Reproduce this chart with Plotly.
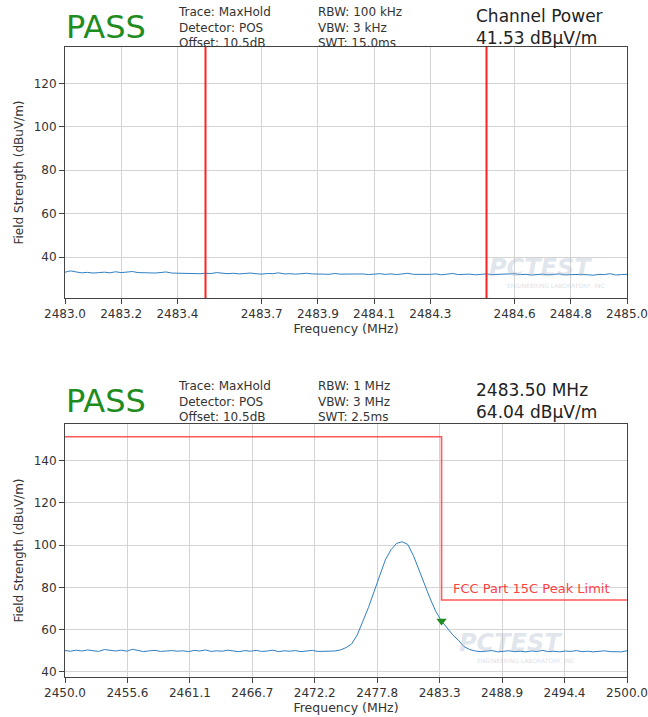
import numpy as np
import plotly.graph_objects as go

# ---------------- data ----------------
# Top chart (channel power sweep)
top_freq_start, top_freq_stop = 2483.0, 2485.0
top_level = [
    33.0, 33.6, 33.1, 32.7, 32.9, 32.6, 32.8, 33.0, 32.7, 33.2,
    32.8, 32.9, 33.3, 32.8, 32.9, 32.7, 32.6, 32.9, 33.1, 32.6,
    32.5, 32.4, 32.6, 32.5, 32.3, 32.5, 32.4, 32.8, 32.4, 32.3,
    32.5, 32.2, 32.4, 32.6, 32.3, 32.1, 32.4, 32.3, 32.7, 32.2,
    32.3, 32.1, 32.3, 32.5, 32.2, 32.3, 32.1, 32.0, 32.4, 32.1,
    32.2, 32.0, 32.3, 32.2, 31.9, 32.1, 32.3, 32.0, 32.2, 31.9,
    32.1, 32.5, 32.0, 31.9, 32.1, 32.0, 32.2, 31.8, 32.1, 32.4,
    31.9, 32.0, 32.1, 31.8, 32.0, 32.2, 31.9, 32.0, 31.8, 32.1,
    32.3, 31.9, 32.0, 31.7, 31.9, 32.1, 31.8, 32.0, 32.2, 31.8,
    31.9, 31.7, 32.0, 31.8, 31.6, 32.0, 31.9, 32.3, 31.7, 31.9,
    32.0,
]
channel_edges = [2483.5, 2484.5]
top_xtick_vals = [2483.0, 2483.2, 2483.4, 2483.7, 2483.9, 2484.1, 2484.3, 2484.6, 2484.8, 2485.0]
top_xtick_text = ["2483.0", "2483.2", "2483.4", "2483.7", "2483.9", "2484.1", "2484.3", "2484.6", "2484.8", "2485.0"]
top_ytick_vals = [40, 60, 80, 100, 120]

# Bottom chart (band edge sweep)
bot_freq_start, bot_freq_stop = 2450.0, 2500.0
bot_level = [
    50.1, 49.8, 50.3, 49.9, 50.4, 50.0, 49.7, 50.6, 50.2, 49.9,
    50.3, 49.8, 50.7, 50.1, 49.6, 50.0, 50.2, 49.7, 49.9, 50.1,
    49.8, 50.0, 49.6, 50.2, 49.9, 50.4, 49.7, 50.0, 49.8, 50.3,
    49.9, 49.6, 50.1, 49.8, 50.2, 49.7, 49.9, 50.3, 49.6, 50.0,
    49.8, 50.1, 49.6, 49.9, 50.2, 49.7, 49.8, 49.6, 49.9,
    50.4, 51.5, 53.2, 57.5, 64.0, 70.5, 78.0, 86.0, 93.0, 97.8,
    100.8, 101.6, 100.3, 95.0, 88.0, 80.5, 74.5, 68.5, 64.04, 60.8,
    57.5, 55.0, 52.0, 50.6,
    49.9, 49.6, 49.8, 50.1, 49.5, 49.7, 50.0, 49.6, 49.8, 49.5,
    49.9, 49.7, 50.2, 49.6, 49.8, 49.5, 49.9, 49.7, 50.1, 49.6,
    49.8, 49.5, 49.9, 50.0, 49.6, 49.7, 49.5, 50.0,
]
limit_freq = [2450.0, 2483.5, 2483.5, 2500.0]
limit_level = [151.3, 151.3, 74.0, 74.0]
marker_freq = [2483.5]
marker_level = [64.04]
bot_xtick_vals = [2450.0, 2455.56, 2461.11, 2466.67, 2472.22, 2477.78, 2483.33, 2488.89, 2494.44, 2500.0]
bot_xtick_text = ["2450.0", "2455.6", "2461.1", "2466.7", "2472.2", "2477.8", "2483.3", "2488.9", "2494.4", "2500.0"]
bot_ytick_vals = [40, 60, 80, 100, 120, 140]

top_info_left = ["Trace: MaxHold", "Detector: POS", "Offset: 10.5dB"]
top_info_mid = ["RBW: 100 kHz", "VBW: 3 kHz", "SWT: 15.0ms"]
top_result = ["Channel Power", "41.53 dBµV/m"]
bot_info_left = ["Trace: MaxHold", "Detector: POS", "Offset: 10.5dB"]
bot_info_mid = ["RBW: 1 MHz", "VBW: 3 MHz", "SWT: 2.5ms"]
bot_result = ["2483.50 MHz", "64.04 dBµV/m"]

# ---------------- figure ----------------
W, H = 648, 717
FONT = "DejaVu Sans"
TRACE_BLUE = "#2f7fc1"

top_freq = np.linspace(top_freq_start, top_freq_stop, len(top_level))
bot_freq = np.linspace(bot_freq_start, bot_freq_stop, len(bot_level))

fig = go.Figure()
fig.add_trace(go.Scatter(x=top_freq, y=top_level, mode="lines",
                         line=dict(color=TRACE_BLUE, width=1), xaxis="x", yaxis="y",
                         showlegend=False, hoverinfo="skip"))
fig.add_trace(go.Scatter(x=bot_freq, y=bot_level, mode="lines",
                         line=dict(color=TRACE_BLUE, width=1), xaxis="x2", yaxis="y2",
                         showlegend=False, hoverinfo="skip"))
fig.add_trace(go.Scatter(x=limit_freq, y=limit_level, mode="lines",
                         line=dict(color="rgba(255,60,60,0.85)", width=1.6), xaxis="x2", yaxis="y2",
                         showlegend=False, hoverinfo="skip"))
fig.add_trace(go.Scatter(x=marker_freq, y=marker_level, mode="markers",
                         marker=dict(symbol="triangle-down", size=9, color="#1e8c1e"),
                         xaxis="x2", yaxis="y2", showlegend=False, hoverinfo="skip"))

for xe in channel_edges:
    fig.add_shape(type="line", xref="x", yref="y domain", x0=xe, x1=xe, y0=0, y1=1,
                  line=dict(color="#ff2020", width=2))


def px_x(px):
    return px / W


def px_y(py):
    return 1 - py / H


axis_common = dict(
    showline=True, mirror=True, linecolor="#444", linewidth=1,
    ticks="outside", ticklen=5, tickcolor="#444",
    showgrid=True, gridcolor="#d4d4d4", gridwidth=1,
    tickfont=dict(family=FONT, size=12, color="#333"),
    zeroline=False, automargin=False,
)
title_font = dict(family=FONT, size=12.5, color="#333")
ytitle_font = dict(family=FONT, size=12, color="#333")

xdom = [px_x(65), px_x(627)]
fig.update_layout(
    width=W, height=H,
    margin=dict(l=0, r=0, t=0, b=0, autoexpand=False),
    paper_bgcolor="white", plot_bgcolor="white",
    xaxis=dict(domain=xdom, range=[top_freq_start, top_freq_stop], anchor="y",
               tickvals=top_xtick_vals, ticktext=top_xtick_text,
               title=dict(text="Frequency (MHz)", font=title_font, standoff=3), **axis_common),
    yaxis=dict(domain=[px_y(298), px_y(47)], range=[21.1, 136.8], anchor="x",
               tickvals=top_ytick_vals,
               title=dict(text="Field Strength (dBuV/m)", font=ytitle_font, standoff=7),
               **axis_common),
    xaxis2=dict(domain=xdom, range=[bot_freq_start, bot_freq_stop], anchor="y2",
                tickvals=bot_xtick_vals, ticktext=bot_xtick_text,
                title=dict(text="Frequency (MHz)", font=title_font, standoff=3), **axis_common),
    yaxis2=dict(domain=[px_y(677), px_y(424)], range=[37.6, 157.3], anchor="x2",
                tickvals=bot_ytick_vals,
                title=dict(text="Field Strength (dBuV/m)", font=ytitle_font, standoff=7),
                **axis_common),
)


def add_text(text, xpx, ypx, size, color="#333", xanchor="left", yanchor="middle", **kw):
    fig.add_annotation(text=text, xref="paper", yref="paper", x=px_x(xpx), y=px_y(ypx),
                       xanchor=xanchor, yanchor=yanchor, showarrow=False,
                       font=dict(family=FONT, size=size, color=color), **kw)


def header(yc, info_left, info_mid, result):
    add_text("PASS", 64, yc, 32, color="#1e8c1e")
    add_text("<br>".join(info_left), 176, yc, 12, align="left")
    add_text("<br>".join(info_mid), 316, yc, 12, align="left")
    add_text("<br>".join(result), 474, yc, 17, color="#222", align="left")


header(27, top_info_left, top_info_mid, top_result)
header(401, bot_info_left, bot_info_mid, bot_result)

# limit label
fig.add_annotation(text="FCC Part 15C Peak Limit", xref="x2", yref="y2",
                   x=limit_freq[1] + 0.8, y=limit_level[-1] + 1.0, xanchor="left", yanchor="bottom",
                   showarrow=False, font=dict(family=FONT, size=13, color="rgba(255,40,40,0.9)"))

# watermark (PCTEST logo approximation)
for (xl, yc) in [(487, 268), (457, 643)]:
    add_text("<b><i>PCTEST</i></b>", xl, yc, 24, color="rgba(170,180,200,0.35)")
    add_text("ENGINEERING LABORATORY, INC", xl + 18, yc + 17, 6, color="rgba(170,180,200,0.45)")

# remove the default 8px page margin so the figure fills the window exactly
fig.write_html("out.html",
               config={"displayModeBar": False},
               post_script="document.body.style.margin='0';document.body.style.overflow='hidden';")
